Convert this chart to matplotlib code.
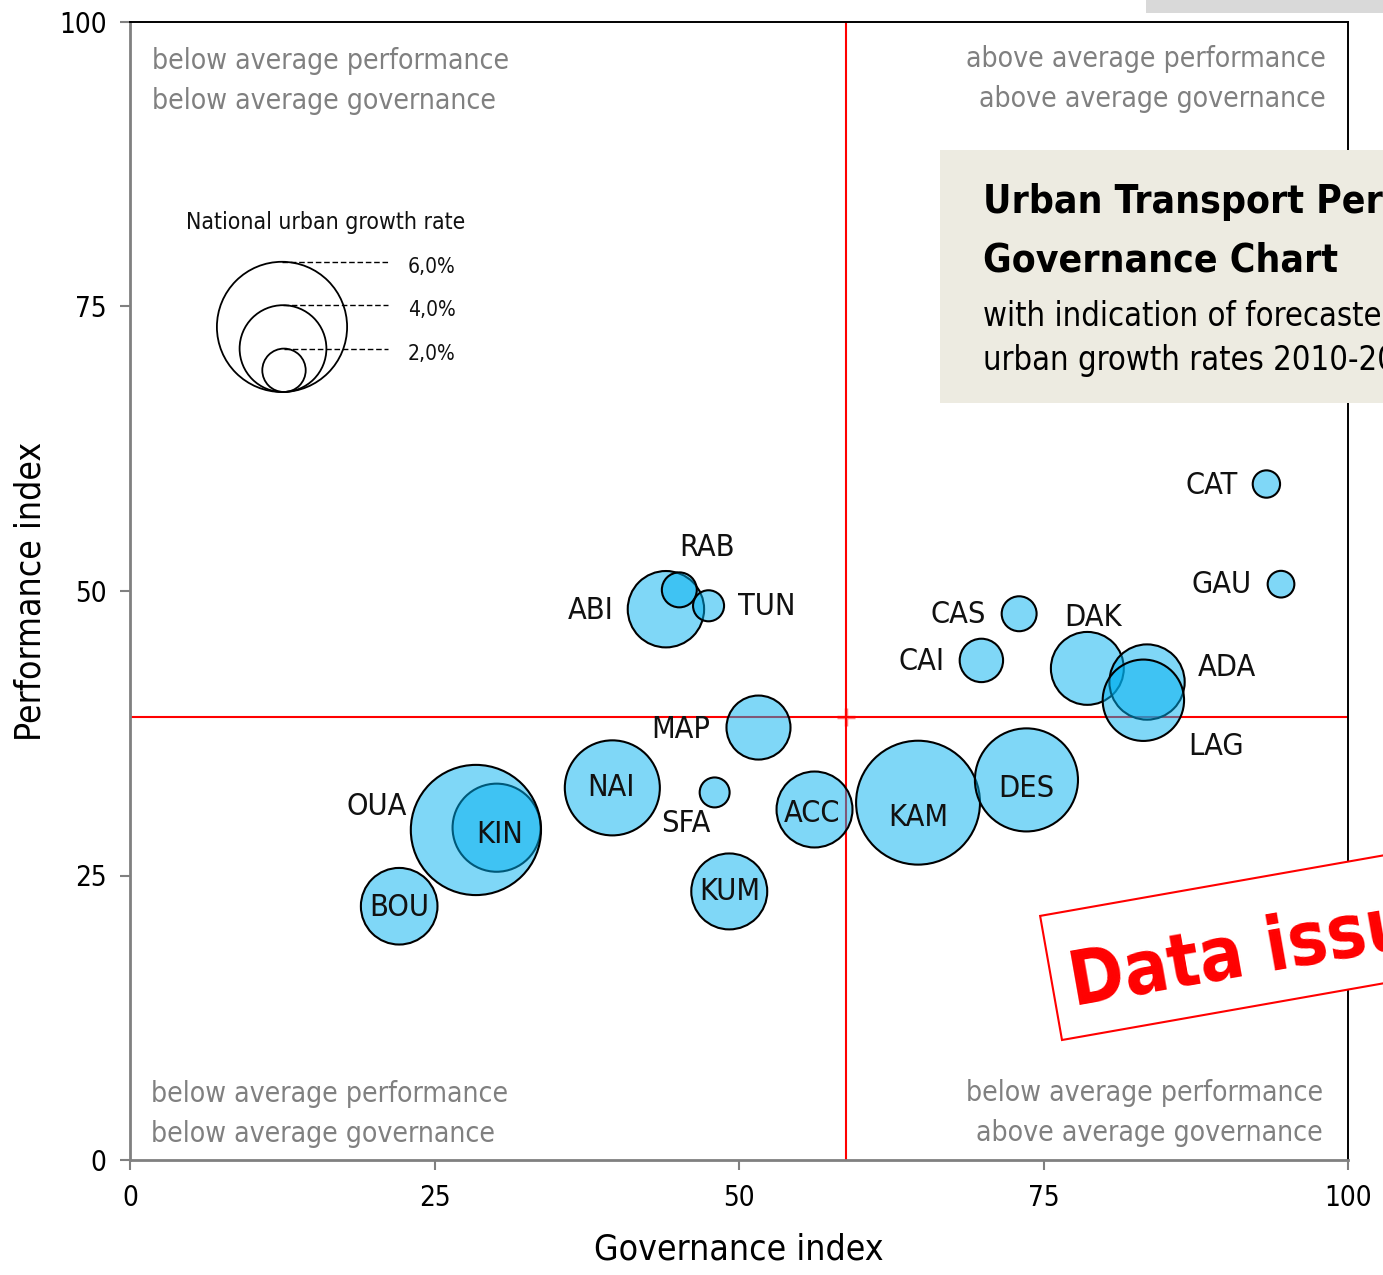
import matplotlib
matplotlib.use("Agg")
import matplotlib.pyplot as plt
from matplotlib.patches import Rectangle
from matplotlib.transforms import IdentityTransform
import numpy as np

plt.rcParams['font.family'] = ['DejaVu Sans']
plt.rcParams['font.stretch'] = 'condensed'

# ---------------- data ----------------
cities = ["CAT", "GAU", "CAS", "CAI", "DAK", "ADA", "LAG", "ABI", "RAB", "TUN",
          "MAP", "NAI", "SFA", "ACC", "KAM", "DES", "KIN", "OUA", "BOU", "KUM"]
governance = [93.3, 94.5, 73.0, 69.9, 78.6, 83.5, 83.2, 44.0, 45.1, 47.5,
              51.6, 39.6, 48.0, 56.2, 64.7, 73.6, 30.1, 28.4, 22.1, 49.2]
performance = [59.4, 50.6, 48.0, 43.9, 43.2, 42.0, 40.4, 48.4, 50.1, 48.7,
               38.0, 32.7, 32.3, 30.8, 31.4, 33.4, 29.2, 29.0, 22.3, 23.6]
growth_rate = [1.26, 1.23, 1.61, 2.0, 3.36, 3.47, 3.75, 3.52, 1.61, 1.43,
               2.95, 4.38, 1.38, 3.5, 5.71, 4.75, 4.06, 6.0, 3.53, 3.5]
avg_governance = 58.8
avg_performance = 38.9
legend_rates = [6.0, 4.0, 2.0]
legend_labels = ["6,0%", "4,0%", "2,0%"]
x_ticks = [0, 25, 50, 75, 100]
y_ticks = [0, 25, 50, 75, 100]

label_offsets = {
    "CAT": (-55, -1), "GAU": (-59, 0), "CAS": (-61, -1), "CAI": (-60, -1),
    "DAK": (6, 51), "ADA": (80, 15), "LAG": (73, -46), "RAB": (28, 42),
    "ABI": (-75, -1), "TUN": (58, -1), "MAP": (-78, -2), "NAI": (-1, 0),
    "SFA": (-29, -31), "ACC": (-2, -4), "KAM": (0, -15), "DES": (0, -9),
    "OUA": (-99, 23), "KIN": (3, -7), "BOU": (0, -1), "KUM": (0, 0),
}

W, H = 1383, 1275
DPI = 100
PX_PER_RATE = 10.85


def size_from_rate(rate):
    d_pt = 2 * rate * PX_PER_RATE * 72.0 / DPI
    return d_pt ** 2


def fpos(x, y):
    return x / W, 1 - y / H


fig = plt.figure(figsize=(W / DPI, H / DPI), dpi=DPI)
ax = fig.add_axes([130 / W, 1 - 1160 / H, 1218 / W, 1138 / H])
ax.set_xlim(0, 100)
ax.set_ylim(0, 100)

grey = '#808080'
for s in ['left', 'bottom']:
    ax.spines[s].set_color(grey)
    ax.spines[s].set_linewidth(2.0)
for s in ['top', 'right']:
    ax.spines[s].set_color('black')
    ax.spines[s].set_linewidth(1.4)
ax.set_xticks(x_ticks)
ax.set_yticks(y_ticks)
ax.tick_params(direction='out', length=7, width=1.5, color=grey,
               labelsize=20, pad=10, labelcolor='black')

ax.axvline(avg_governance, color='#ff0000', lw=1.5, zorder=1)
ax.axhline(avg_performance, color='#ff0000', lw=1.5, zorder=1)
ax.plot([avg_governance], [avg_performance], marker='+', ms=13, mew=2.5,
        color='#ff0000', alpha=0.5, zorder=1)

sizes = [size_from_rate(r) for r in growth_rate]
ax.scatter(governance, performance, s=sizes,
           facecolors=(0.0, 0.694, 0.945, 0.5), edgecolors='black',
           linewidths=1.5, zorder=3)

for name, gx, py in zip(cities, governance, performance):
    dx, dy = label_offsets[name]
    ax.annotate(name, (gx, py), xytext=(dx, dy), textcoords='offset pixels',
                ha='center', va='center', fontsize=22, color='#111111', zorder=4)

qfs = 20.3
qc = grey
def qtext(px, py, s, ha):
    ax.text((px - 130) / 1218, (1160 - py) / 1138, s, transform=ax.transAxes,
            fontsize=qfs, color=qc, ha=ha, va='baseline')
qtext(152, 69, "below average performance", 'left')
qtext(152, 109, "below average governance", 'left')
qtext(1326, 67, "above average performance", 'right')
qtext(1326, 107, "above average governance", 'right')
qtext(151, 1102, "below average performance", 'left')
qtext(151, 1142, "below average governance", 'left')
qtext(1323, 1101, "below average performance", 'right')
qtext(1323, 1141, "above average governance", 'right')

ax.set_xlabel("Governance index", fontsize=25.5)
ax.set_ylabel("Performance index", fontsize=25.5)
ax.xaxis.set_label_coords(0.5, (1160 - 1232) / 1138)
ax.yaxis.set_label_coords((48 - 130) / 1218, 0.5)

ax_h = 1138.0
ax_w = 1218.0
bottom_px = 392.0
leg_x = [282, 283, 284]
for rate, lab, lx in zip(legend_rates, legend_labels, leg_x):
    r = rate * PX_PER_RATE
    cy = bottom_px - r
    ax.scatter([(lx - 130) / ax_w], [(1160 - cy) / ax_h], s=size_from_rate(rate),
               transform=ax.transAxes, facecolors='none', edgecolors='black',
               linewidths=1.3, zorder=5, clip_on=False)
    ty = cy - r
    ax.plot([(lx - 130) / ax_w, (388 - 130) / ax_w],
            [(1160 - ty) / ax_h] * 2, transform=ax.transAxes,
            color='black', lw=1.0, ls=(0, (4, 2)), zorder=5)
    ax.text((408 - 130) / ax_w, (1160 - ty - 5) / ax_h, lab, transform=ax.transAxes,
            fontsize=15, ha='left', va='center', color='#111111')
ax.text((326 - 130) / ax_w, (1160 - 223) / ax_h, "National urban growth rate",
        transform=ax.transAxes, fontsize=16.5, ha='center', va='center', color='#111111')

fig.patches.append(Rectangle((1146, H - 13), 300, 20, transform=IdentityTransform(),
                             facecolor='#d9d9d9', edgecolor='none', zorder=10))

fig.patches.append(Rectangle((940, H - 403), 500, 253, transform=IdentityTransform(),
                             facecolor='#edebe1', edgecolor='none', zorder=10))
x0, y0 = fpos(983, 213)
fig.text(x0, y0, "Urban Transport Performance", fontsize=28, fontweight='bold',
         ha='left', va='baseline', zorder=11)
x0, y0 = fpos(983, 272)
fig.text(x0, y0, "Governance Chart", fontsize=28, fontweight='bold',
         ha='left', va='baseline', zorder=11)
x0, y0 = fpos(983, 326)
fig.text(x0, y0, "with indication of forecasted", fontsize=23.5,
         ha='left', va='baseline', zorder=11)
x0, y0 = fpos(983, 370)
fig.text(x0, y0, "urban growth rates 2010-2020", fontsize=23.5,
         ha='left', va='baseline', zorder=11)

ang = 10.0
stamp = Rectangle((1062, H - 1040), 700, 126, angle=ang, transform=IdentityTransform(),
                  facecolor='white', edgecolor='#ff0000', lw=1.5, zorder=10)
fig.patches.append(stamp)
x0, y0 = fpos(1074, 1006)
fig.text(x0, y0, "Data issue", fontsize=53, fontweight='bold', color='#ff0000',
         rotation=ang, rotation_mode='anchor', ha='left', va='baseline', zorder=11)

fig.savefig("out.png", dpi=DPI)
